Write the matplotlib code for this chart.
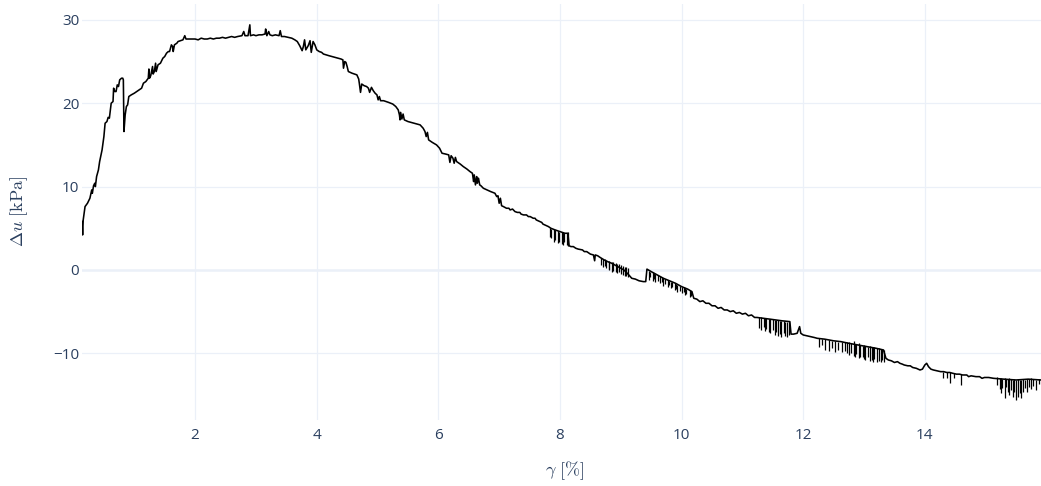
import matplotlib.pyplot as plt

# Shear strain (gamma, %) and excess pore pressure (du, kPa).
rise_gamma = [0.14, 0.15, 0.16, 0.19, 0.23, 0.27, 0.30, 0.31, 0.33, 0.35, 0.36, 0.38,
              0.41, 0.43, 0.47, 0.50, 0.52, 0.55, 0.57, 0.59, 0.61, 0.62, 0.65, 0.66,
              0.68, 0.70, 0.72, 0.74, 0.76, 0.79, 0.81, 0.82, 0.83, 0.85, 0.87, 0.89,
              0.91, 0.95, 1.00, 1.04, 1.08, 1.12, 1.15, 1.19, 1.23, 1.24, 1.25, 1.27,
              1.30, 1.31, 1.33, 1.35, 1.36, 1.39, 1.43, 1.47, 1.50, 1.53, 1.56, 1.58,
              1.61, 1.63, 1.64, 1.66, 1.70, 1.72, 1.76, 1.80, 1.83, 1.85, 1.90]
rise_du = [5.8, 4.2, 6.0, 7.6, 8.0, 8.6, 9.6, 9.2, 10.1, 10.4, 10.0, 11.2,
           12.0, 13.0, 14.4, 16.0, 17.6, 17.8, 18.3, 18.2, 19.4, 20.0, 20.2, 21.8,
           21.4, 21.4, 22.2, 22.0, 22.8, 23.0, 23.0, 22.8, 16.6, 18.6, 19.6, 19.8,
           20.8, 21.0, 21.2, 21.4, 21.6, 21.8, 22.4, 22.6, 23.0, 24.1, 23.0, 23.3,
           24.4, 23.5, 23.8, 24.8, 23.8, 24.6, 24.8, 25.4, 25.6, 26.0, 26.2, 26.2,
           27.0, 26.8, 26.2, 27.0, 27.2, 27.4, 27.5, 27.6, 28.1, 27.7, 27.7]

plateau_gamma = [1.95, 2.00, 2.05, 2.10, 2.15, 2.20, 2.25, 2.30, 2.35, 2.40, 2.45, 2.50,
                 2.55, 2.60, 2.65, 2.70, 2.77, 2.80, 2.82, 2.87, 2.90, 2.91, 2.96, 3.00,
                 3.05, 3.10, 3.15, 3.16, 3.18, 3.21, 3.23, 3.27, 3.32, 3.38, 3.40, 3.42,
                 3.47, 3.53, 3.59, 3.64, 3.68, 3.72, 3.76, 3.78, 3.80, 3.82, 3.86, 3.89,
                 3.91, 3.94, 3.97, 4.00, 4.04, 4.08, 4.11, 4.20, 4.30, 4.40]
plateau_du = [27.7, 27.7, 27.6, 27.8, 27.7, 27.7, 27.8, 27.7, 27.8, 27.8, 27.9, 27.8,
              27.9, 28.0, 27.9, 28.0, 28.1, 28.6, 28.1, 28.1, 29.4, 28.1, 28.2, 28.1,
              28.2, 28.2, 28.3, 28.9, 28.1, 28.6, 28.2, 28.1, 28.2, 28.1, 28.7, 28.0,
              28.0, 27.9, 27.8, 27.6, 27.4, 26.9, 26.3, 26.8, 27.6, 26.4, 26.9, 27.5,
              26.1, 27.4, 27.0, 26.4, 26.2, 26.1, 25.9, 25.7, 25.5, 25.3]

decline_gamma = [4.43, 4.44, 4.46, 4.48, 4.50, 4.52, 4.58, 4.66, 4.69, 4.70, 4.72, 4.74,
                 4.78, 4.82, 4.85, 4.87, 4.90, 4.93, 4.96, 4.99, 5.01, 5.03, 5.05, 5.10,
                 5.18, 5.25, 5.30, 5.34, 5.36, 5.37, 5.38, 5.40, 5.42, 5.44, 5.50, 5.60,
                 5.70, 5.75, 5.78, 5.80, 5.82, 5.84, 5.90, 5.97, 6.02, 6.06, 6.12, 6.17,
                 6.19, 6.21, 6.24, 6.26, 6.28, 6.30, 6.36, 6.41, 6.47, 6.52, 6.56, 6.58,
                 6.59, 6.61, 6.63, 6.64, 6.66, 6.68, 6.70, 6.74, 6.80, 6.86, 6.93, 6.96,
                 6.98, 7.00, 7.02, 7.04, 7.07, 7.12, 7.16, 7.18, 7.22, 7.26, 7.30, 7.34,
                 7.36, 7.40, 7.45, 7.48, 7.51, 7.56, 7.59, 7.61, 7.67, 7.70, 7.72, 7.78,
                 7.81, 7.85, 7.92, 8.00, 8.08, 8.13, 8.15, 8.18, 8.22, 8.26, 8.30, 8.37,
                 8.40, 8.44, 8.50, 8.55, 8.57, 8.58, 8.62, 8.66]
decline_du = [25.2, 24.2, 25.0, 24.9, 24.4, 23.8, 23.6, 23.4, 22.9, 22.4, 21.3, 22.3,
              22.1, 22.0, 21.8, 21.3, 21.9, 21.5, 21.2, 21.0, 20.4, 20.8, 20.3, 20.3,
              20.1, 19.9, 19.6, 19.2, 18.6, 18.0, 18.9, 18.1, 18.7, 18.0, 17.8, 17.6,
              17.4, 17.0, 16.6, 16.0, 16.5, 15.6, 15.3, 15.0, 14.6, 14.0, 13.9, 13.8,
              12.9, 13.7, 13.4, 12.8, 13.5, 13.0, 12.7, 12.4, 12.1, 11.8, 11.6, 10.6,
              11.4, 10.2, 11.2, 10.4, 11.0, 10.2, 10.1, 9.8, 9.6, 9.4, 9.2, 8.8,
              8.9, 8.0, 8.6, 7.7, 7.6, 7.4, 7.4, 7.2, 7.3, 7.0, 6.9, 6.9,
              6.7, 6.6, 6.6, 6.4, 6.4, 6.2, 6.2, 6.0, 5.8, 5.7, 5.5, 5.3,
              5.2, 5.0, 4.8, 4.6, 4.4, 4.4, 2.9, 2.8, 2.8, 2.6, 2.5, 2.4,
              2.2, 2.2, 1.9, 1.8, 1.1, 1.8, 1.7, 1.5]

mid_gamma = [8.75, 8.85, 8.95, 9.05, 9.12, 9.18, 9.24, 9.30, 9.37, 9.41, 9.43, 9.50,
             9.60, 9.70, 9.80, 9.90, 10.00, 10.10, 10.17, 10.20, 10.25, 10.30, 10.35, 10.40,
             10.45, 10.50, 10.55, 10.60, 10.65, 10.70, 10.75, 10.80, 10.85, 10.90, 10.95, 11.00,
             11.05, 11.10, 11.15, 11.20, 11.24, 11.35, 11.45, 11.55, 11.65, 11.78, 11.80, 11.84,
             11.90, 11.94, 11.96, 12.00, 12.06, 12.12, 12.18, 12.23]
mid_du = [1.1, 0.8, 0.4, 0.0, -0.5, -1.0, -1.1, -1.3, -1.4, -1.4, 0.1, -0.2,
          -0.6, -1.0, -1.3, -1.6, -2.0, -2.3, -2.6, -3.4, -3.5, -3.8, -3.7, -4.0,
          -4.0, -4.3, -4.3, -4.6, -4.5, -4.8, -4.8, -5.0, -4.9, -5.2, -5.1, -5.3,
          -5.2, -5.5, -5.4, -5.7, -5.7, -5.8, -5.9, -6.0, -6.1, -6.2, -7.7, -7.7,
          -7.6, -6.8, -7.6, -7.8, -7.9, -8.0, -8.1, -8.2]

tail_gamma = [12.35, 12.50, 12.62, 12.75, 12.90, 13.05, 13.20, 13.32, 13.36, 13.40, 13.45, 13.50,
              13.55, 13.59, 13.63, 13.66, 13.72, 13.76, 13.80, 13.86, 13.92, 13.96, 14.00, 14.03,
              14.06, 14.10, 14.14, 14.20, 14.26, 14.31, 14.36, 14.41, 14.46, 14.52, 14.57, 14.62,
              14.69, 14.72, 14.76, 14.84, 14.90, 14.94, 14.98, 15.05, 15.13, 15.30, 15.50, 15.70,
              15.91]
tail_du = [-8.3, -8.5, -8.6, -8.8, -9.0, -9.2, -9.4, -9.6, -10.6, -10.8, -10.9, -11.1,
           -11.0, -11.2, -11.3, -11.4, -11.5, -11.5, -11.7, -11.8, -12.0, -11.9, -11.4, -11.2,
           -11.6, -11.9, -12.0, -12.1, -12.2, -12.2, -12.3, -12.3, -12.4, -12.5, -12.5, -12.6,
           -12.6, -12.8, -12.7, -12.8, -12.8, -13.0, -12.9, -12.9, -13.0, -13.1, -13.2, -13.1,
           -13.2]

# Sharp vertical spikes in the noisy parts of the record (gamma, low, high).
spike_gamma = [7.84, 7.86, 7.90, 7.92, 7.96, 7.98, 8.03, 8.05, 8.07, 8.11, 8.14,
               8.68, 8.70, 8.74, 8.76, 8.80, 8.81, 8.86, 8.88, 8.92, 8.93, 8.97, 9.01,
               9.03, 9.07, 9.09, 9.12,
               9.46, 9.48, 9.53, 9.55, 9.57, 9.62, 9.64, 9.68, 9.70, 9.72, 9.77, 9.79,
               9.83, 9.85, 9.89, 9.91, 9.93, 9.98, 10.00, 10.04, 10.06, 10.08, 10.13, 10.15,
               11.28, 11.30, 11.35, 11.37, 11.39, 11.44, 11.46, 11.50, 11.53, 11.55, 11.59, 11.62,
               11.64, 11.68, 11.70, 11.74, 11.77,
               12.26, 12.31, 12.36, 12.42, 12.48, 12.53, 12.58, 12.63, 12.68, 12.72,
               12.76, 12.78, 12.83, 12.85, 12.87, 12.92, 12.94, 12.98, 13.00, 13.02, 13.07, 13.09,
               13.13, 13.15, 13.17, 13.22, 13.24, 13.28, 13.30, 13.33,
               14.30, 14.36, 14.41, 14.48, 14.59,
               15.19, 15.23, 15.25, 15.27, 15.31, 15.33, 15.37, 15.39, 15.41, 15.45, 15.47, 15.50,
               15.54, 15.56, 15.58, 15.62, 15.64, 15.68, 15.71, 15.75, 15.78, 15.83, 15.87]
spike_high = [5.0, 4.9, 4.9, 4.8, 4.7, 4.6, 4.6, 4.5, 4.4, 4.4, 4.6,
              1.4, 1.3, 1.3, 1.2, 1.1, 1.0, 1.0, 0.9, 0.8, 0.7, 0.7, 0.6,
              0.5, 0.4, 0.3, 0.2,
              -0.1, -0.2, -0.3, -0.4, -0.5, -0.6, -0.7, -0.8, -1.0, -1.1, -1.2, -1.3,
              -1.4, -1.5, -1.6, -1.7, -1.8, -1.9, -2.0, -2.1, -2.2, -2.3, -2.4, -2.5,
              -5.7, -5.7, -5.8, -5.8, -5.8, -5.9, -5.9, -5.9, -6.0, -6.0, -6.0, -6.1,
              -6.1, -6.1, -6.2, -6.2, -6.2,
              -8.2, -8.3, -8.3, -8.4, -8.5, -8.5, -8.6, -8.6, -8.7, -8.7,
              -8.6, -8.8, -8.5, -8.9, -8.9, -8.8, -9.0, -9.1, -9.0, -9.1, -9.2, -9.1,
              -9.3, -9.3, -9.2, -9.4, -9.4, -9.5, -9.5, -9.6,
              -12.2, -12.3, -12.3, -12.4, -12.5,
              -12.9, -13.0, -13.0, -13.1, -13.0, -13.1, -13.1, -13.0, -13.1, -13.2, -13.1, -13.2,
              -13.1, -13.2, -13.2, -13.1, -13.2, -13.1, -13.1, -13.0, -13.1, -13.2, -13.1]
spike_low = [4.0, 3.8, 3.4, 3.6, 3.2, 3.4, 3.1, 3.0, 3.3, 3.0, 2.9,
             0.6, 0.3, 0.5, 0.2, 0.1, 0.0, -0.2, -0.1, -0.3, -0.4, -0.3, -0.5,
             -0.6, -0.7, -0.7, -0.8,
             -1.2, -0.9, -1.3, -1.1, -1.5, -1.3, -1.6, -1.4, -1.9, -1.7, -2.0, -1.8,
             -2.2, -2.0, -2.4, -2.3, -2.6, -2.5, -2.8, -2.7, -3.0, -2.9, -3.2, -3.1,
             -7.0, -7.2, -6.8, -7.3, -7.1, -7.4, -7.6, -7.2, -7.8, -7.5, -7.9, -7.7,
             -8.0, -7.6, -7.9, -8.0, -7.8,
             -9.3, -9.0, -9.6, -9.7, -9.4, -9.8, -9.6, -9.9, -9.7, -10.0,
             -10.2, -10.0, -10.3, -10.4, -10.1, -10.6, -10.5, -10.4, -10.7, -10.8, -10.5, -10.9,
             -10.8, -11.0, -10.7, -11.0, -10.9, -11.0, -10.8, -11.0,
             -13.0, -13.0, -13.6, -13.0, -13.8,
             -13.8, -14.3, -14.8, -14.2, -15.4, -14.0, -14.6, -15.0, -14.4, -15.3, -14.6, -15.6,
             -15.2, -14.8, -15.4, -14.7, -14.2, -14.6, -14.0, -14.3, -13.9, -14.4, -13.7]

gamma = rise_gamma + plateau_gamma + decline_gamma + mid_gamma + tail_gamma
du = rise_du + plateau_du + decline_du + mid_du + tail_du

x_ticks = [2, 4, 6, 8, 10, 12, 14]
y_ticks = [-10, 0, 10, 20, 30]

plt.rcParams['mathtext.fontset'] = 'cm'
plt.rcParams['font.family'] = ['Open Sans', 'DejaVu Sans']

text_color = '#2a3f5f'
grid_color = '#ebf0f8'

fig = plt.figure(figsize=(10.41, 4.86), dpi=100)
ax = fig.add_axes([82 / 1041, 66 / 486, 959 / 1041, 416 / 486])

ax.plot(gamma, du, color='black', linewidth=1.15, zorder=3)
ax.vlines(spike_gamma, spike_low, spike_high, color='black', linewidth=0.9, zorder=3)

# Format plot.
ax.set_xlim(min(gamma), max(gamma))
ax.set_ylim(-18.0, 31.9)
ax.set_xticks(x_ticks)
ax.set_yticks(y_ticks)
ax.grid(True, color=grid_color, linewidth=0.9)
ax.axhline(0, color=grid_color, linewidth=1.8, zorder=1)
ax.set_axisbelow(True)
for spine in ax.spines.values():
    spine.set_visible(False)
ax.tick_params(length=0, labelsize=11, labelcolor=text_color)
ax.tick_params(axis='x', pad=6)
ax.tick_params(axis='y', pad=2)

fig.text(19 / 1041, 1 - 211 / 486, r'$\Delta u\ [\mathrm{kPa}]$', rotation=90,
         ha='center', va='center', fontsize=13, color=text_color)
fig.text(565 / 1041, 1 - 471 / 486, r'$\gamma\ [\%]$',
         ha='center', va='center', fontsize=13, color=text_color)

fig.savefig('out.png', dpi=100, facecolor='white')
